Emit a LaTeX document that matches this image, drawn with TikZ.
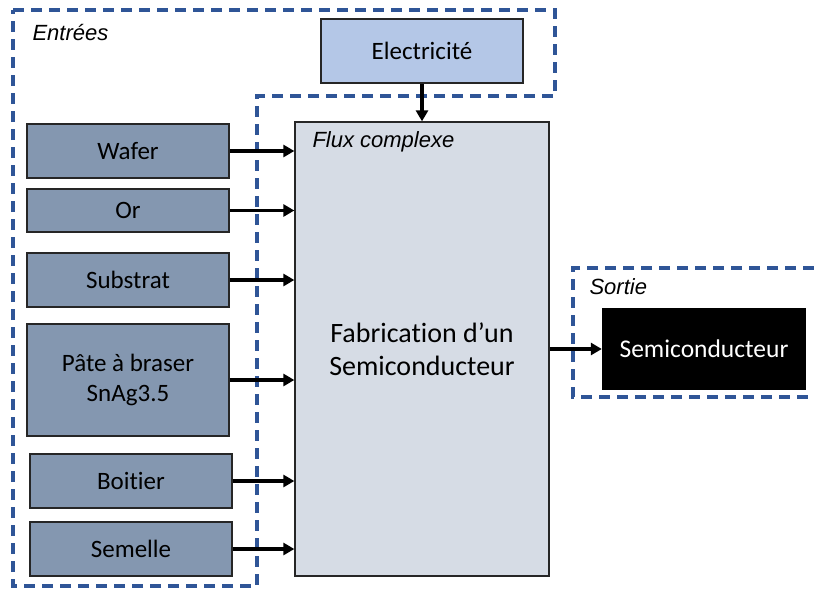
\documentclass[tikz,border=0pt]{standalone}
\usepackage{fontspec}
\setmainfont{Carlito}[Ligatures=NoCommon]
\newfontfamily\labelfont{Liberation Sans}
\usepackage{tikz}
\usetikzlibrary{positioning, arrows.meta}

\definecolor{inbox}{HTML}{8497B0}
\definecolor{elecbox}{HTML}{B4C7E7}
\definecolor{fluxbox}{HTML}{D6DCE5}
\definecolor{zone}{HTML}{2F5597}
\definecolor{edge}{HTML}{262626}

\begin{document}
\begin{tikzpicture}[x=1pt, y=-1pt,
    flow/.style={line width=3.5pt, -{Triangle[length=11pt, width=12pt]}},
    inbox/.style={draw=edge, line width=1.3pt, fill=inbox, minimum width=202pt,
      font=\fontsize{25}{30}\selectfont, align=center, inner sep=0pt},
    zoneline/.style={draw=zone, line width=4pt, dash pattern=on 11pt off 7pt},
    zonelabel/.style={anchor=base west, font=\labelfont\itshape\fontsize{22}{25}\selectfont}]
      \useasboundingbox (0,0) rectangle (814,589);

      % Define the coordinates
      \coordinate (E1) at (13,10);
      \coordinate (E2) at (555,10);
      \coordinate (E3) at (555,96);
      \coordinate (E4) at (257,96);
      \coordinate (E5) at (257,586);
      \coordinate (E6) at (13,586);
      \coordinate (S1) at (814,268);
      \coordinate (S2) at (573,268);
      \coordinate (S3) at (573,397);
      \coordinate (S4) at (814,397);

      % Draw the zones
      \draw[zoneline] (E1) -- (E2) -- (E3) -- (E4) -- (E5) -- (E6) -- cycle;
      \draw[zoneline] (S1) -- (S2) -- (S3) -- (S4);

      % Draw the inputs
      \node[inbox, minimum height=54pt] (wafer) at (128,151) {Wafer};
      \node[inbox, minimum height=43pt] (gold) at (128,210.5) {Or};
      \node[inbox, minimum height=54pt] (substrate) at (128,280) {Substrat};
      \node[inbox, minimum height=112pt] (paste) at (128,380) {Pâte à braser\\SnAg3.5};
      \node[inbox, minimum height=54pt] (housing) at (131,481) {Boitier};
      \node[inbox, minimum height=54pt] (sole) at (131,549) {Semelle};
      \node[draw=edge, line width=1.3pt, fill=elecbox, minimum width=202pt, minimum height=64pt,
        font=\fontsize{25}{30}\selectfont] (power) at (422,51) {Electricité};

      % Draw the process
      \node[draw=edge, line width=1.3pt, fill=fluxbox, minimum width=254pt, minimum height=454pt,
        align=center, font=\fontsize{28}{33}\selectfont] (flux) at (422,349)
        {Fabrication d’un\\Semiconducteur};

      % Draw the output
      \node[fill=black, text=white, minimum width=204pt, minimum height=82pt,
        font=\fontsize{25.5}{30}\selectfont] (chip) at (704,349) {Semiconducteur};

      % Draw the flows
      \foreach \src in {wafer, gold, substrate, paste, housing, sole}
        \draw[flow] (\src.east) -- (\src.east -| flux.west);
      \draw[flow] (power.south) -- (flux.north);
      \draw[flow] (flux.east) -- (chip.west);

      % Draw the labels
      \node[zonelabel] (inlabel) at (29,40) {Entrées};
      \node[zonelabel] (fluxlabel) at (309,147) {Flux complexe};
      \node[zonelabel] (outlabel) at (586,294) {Sortie};
\end{tikzpicture}
\end{document}
